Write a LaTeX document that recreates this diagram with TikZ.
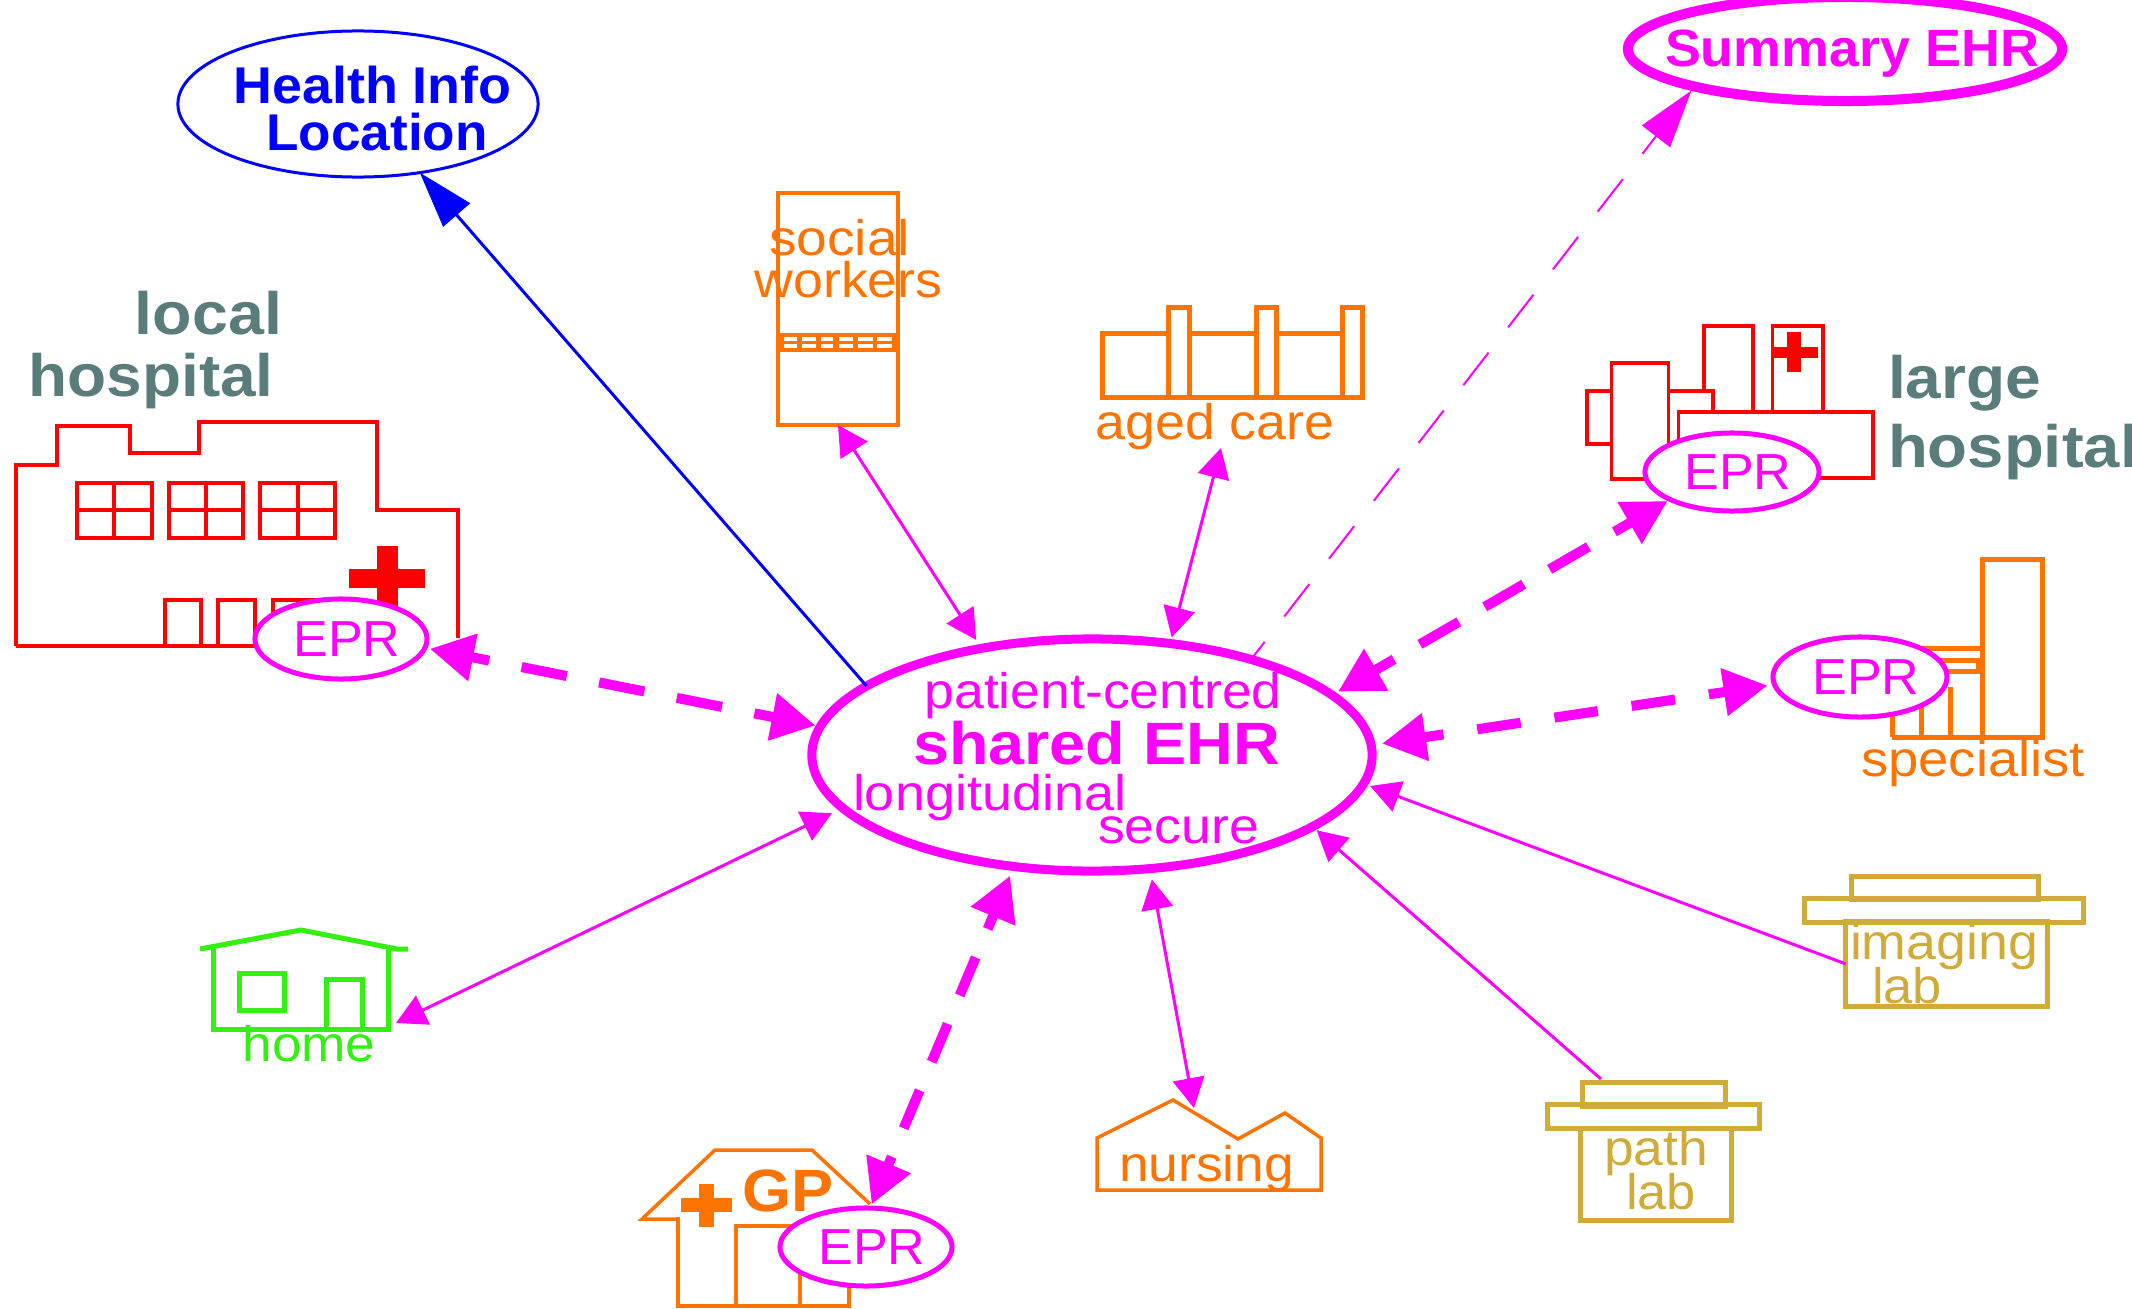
\documentclass[tikz,border=0pt]{standalone}
\usepackage{fontspec}
\usepackage{graphicx}
\setmainfont{Liberation Sans}
\usetikzlibrary{arrows.meta,shapes.geometric}
\newdimen\pxu \pxu=0.28453pt
\newcommand{\fitw}[2]{\resizebox{#1\pxu}{\height}{#2}}
\newcommand{\eprlabel}{\hspace*{12\pxu}\fontsize{14.4pt}{16pt}\selectfont\fitw{107}{EPR}}
\definecolor{mag}{HTML}{FF00FF}
\definecolor{orng}{HTML}{FF7300}
\definecolor{gold}{HTML}{CFAB3A}
\definecolor{grn}{HTML}{33F011}
\definecolor{teal2}{HTML}{5A7D7C}
\tikzset{
  x=0.01cm, y=-0.01cm,
  redl/.style={draw=red,line width=3.5\pxu},
  orl/.style={draw=orng,line width=5\pxu},
  goldl/.style={draw=gold,line width=5\pxu},
  grnl/.style={draw=grn,line width=5\pxu},
  txt/.style={anchor=base west,inner sep=0pt,outer sep=0pt,yshift=-1.2\pxu},
  reg/.style={txt,font=\fontsize{14.2pt}{16pt}\selectfont},
  bld/.style={txt,font=\fontsize{17pt}{19pt}\selectfont\bfseries},
  mainell/.style={ellipse,draw=mag,fill=white,line width=9\pxu,minimum width=560\pxu,minimum height=232\pxu,inner sep=0pt,outer sep=0pt},
  eprell/.style={ellipse,draw=mag,fill=white,line width=5\pxu,text=mag,minimum width=172\pxu,minimum height=80\pxu,inner sep=0pt,outer sep=0pt},
  boxn/.style={rectangle,inner sep=0pt,outer sep=0pt},
  thick arr/.style={draw=mag,line width=10\pxu,
     {Triangle[length=12.5pt,width=13pt]}-{Triangle[length=12.5pt,width=13pt]}},
  thin arr/.style={draw=mag,line width=3\pxu,
     {Triangle[length=8.5pt,width=9pt]}-{Triangle[length=8.5pt,width=9pt]}},
}
\begin{document}
\begin{tikzpicture}
\useasboundingbox (0,0) rectangle (2132,1309);

% local hospital
\draw[redl] (16,646) -- (16,465) -- (57,465) -- (57,426) -- (130,426) -- (130,453) -- (199,453) -- (199,422) -- (377,422) -- (377,510) -- (458,510) -- (458,638);
\draw[redl] (16,646) -- (300,646);
\foreach \a/\b/\c in {77/114/152,169/206/243,260/298/335}{
  \draw[redl] (\a,483) rectangle (\c,538);
  \draw[redl] (\a,510) -- (\c,510);
  \draw[redl] (\b,483) -- (\b,538);
}
\draw[redl] (165,646) |- (201,600) -- (201,646);
\draw[redl] (218,646) |- (255,600) -- (255,646);
\draw[redl] (273,646) |- (320,600);
\fill[red] (377,546) rectangle (398,620);
\fill[red] (349,569) rectangle (425,588);

% large hospital
\draw[redl] (1587,391) rectangle (1611.5,444);
\draw[redl] (1611.5,363) rectangle (1668.5,479);
\draw[redl] (1668.5,391) -- (1712.8,391) -- (1712.8,412);
\draw[redl] (1704,391) -- (1704,326) -- (1753,326) -- (1753,412);
\draw[redl] (1772.7,412) -- (1772.7,326) -- (1823,326) -- (1823,412);
\draw[redl] (1678.4,412) rectangle (1873,478);
\fill[red] (1786.5,332) rectangle (1801,372);
\fill[red] (1771,347) rectangle (1818,358);

% specialist
\draw[orl] (1982,559) rectangle (2042,737);
\draw[orl] (1892,737) -- (1982,737);
\draw[orl] (1892,737) -- (1892,690);
\draw[orl] (1921,737) -- (1921,690);
\draw[orl] (1950,737) -- (1950,687);
\draw[orl] (1895,648) -- (1982,648);
\draw[orl] (1895,660) -- (1977,660);
\draw[orl] (1895,671) -- (1982,671);
\fill[orng] (1976,658) rectangle (1982,673);

% social workers
\node[boxn,draw=orng,line width=4\pxu,minimum width=120\pxu,minimum height=232\pxu] (socialbox) at (838,309) {};
\fill[orng] (778,333) rectangle (898,352);
\foreach \a/\b in {784/797,802/816,821/833,839/853,858/873,877/892}{
  \fill[white] (\a,337) rectangle (\b,341);
  \fill[white] (\a,344) rectangle (\b,348);
}

% aged care
\draw[orl] (1168,333) -- (1102,333) -- (1102,397) -- (1362,397);
\draw[orl] (1168,307) rectangle (1189,397);
\draw[orl] (1189,333) -- (1256,333);
\draw[orl] (1256,307) rectangle (1276,397);
\draw[orl] (1276,333) -- (1342,333);
\draw[orl] (1342,307) rectangle (1362,397);

% imaging lab
\draw[goldl] (1851,876) rectangle (2038,899);
\draw[goldl] (1804,898) rectangle (2083,922);
\node[boxn,draw=gold,line width=5\pxu,minimum width=201\pxu,minimum height=84\pxu] (imgbody) at (1946.5,964) {};

% path lab
\draw[goldl] (1582,1082) rectangle (1725,1106);
\draw[goldl] (1547,1104) rectangle (1759,1128);
\draw[goldl] (1580,1128) rectangle (1731,1220);
\coordinate (pathp) at (1601,1079);

% home
\draw[grnl] (200,949) -- (301,930) -- (397,949) -- (408,949);
\draw[grnl] (213,949) -- (213,1029) -- (388,1029) -- (388,949);
\draw[grnl] (239,973) rectangle (284,1010);
\draw[grnl] (326,1029) -- (326,979) -- (362,979) -- (362,1029);
\coordinate (homep) at (396,1023);

% GP
\draw[draw=orng,line width=3.5\pxu] (678,1219) -- (642,1219) -- (715,1150) -- (812,1150) -- (870,1204);
\draw[draw=orng,line width=4\pxu] (678,1217) -- (678,1306) -- (849,1306) -- (849,1270);
\draw[draw=orng,line width=4\pxu] (736,1306) -- (736,1226) -- (800,1226) -- (800,1306);
\fill[orng] (699,1184) rectangle (714,1227);
\fill[orng] (681,1198) rectangle (732,1212);

% nursing
\draw[draw=orng,line width=3.5\pxu] (1097,1138) -- (1173,1100) -- (1238,1139) -- (1285,1113) -- (1321,1138) -- (1321,1190) -- (1097,1190) -- cycle;
\coordinate (nursep) at (1194,1108);
\coordinate (agedp) at (1221,448);

% ellipses
\node[ellipse,draw=blue,fill=white,line width=3\pxu,minimum width=360\pxu,minimum height=146\pxu,inner sep=0pt,outer sep=0pt] (health) at (358,104) {};
\node[ellipse,draw=mag,fill=white,line width=10\pxu,minimum width=434\pxu,minimum height=104\pxu,inner sep=0pt,outer sep=0pt] (summ) at (1845,49) {};
\node[mainell] (main) at (1092,755) {};
\node[eprell] (eprL) at (341,639) {\eprlabel};
\node[eprell,minimum width=174\pxu,minimum height=78\pxu] (eprH) at (1732,472) {\eprlabel};
\node[eprell,minimum width=174\pxu] (eprS) at (1860,677) {\eprlabel};
\node[eprell,minimum width=172\pxu,minimum height=78\pxu] (eprG) at (866,1247) {\eprlabel};

% text
\node[bld,text=blue,font=\fontsize{14.7pt}{16pt}\selectfont\bfseries] (t1) at (233.5,102) {\fitw{278}{Health Info}};
\node[bld,text=blue,font=\fontsize{14.7pt}{16pt}\selectfont\bfseries] (t2) at (266.5,149) {\fitw{221}{Location}};
\node[bld,text=mag,font=\fontsize{14.9pt}{16pt}\selectfont\bfseries] (t3) at (1665,65) {\fitw{374}{Summary EHR}};
\node[bld,text=teal2] (t4) at (135,333) {\fitw{147}{local}};
\node[bld,text=teal2] (t5) at (28.5,395) {\fitw{245}{hospital}};
\node[bld,text=teal2] (t6) at (1888,397) {\fitw{153}{large}};
\node[bld,text=teal2] (t7) at (1888,466) {\fitw{250}{hospital}};
\node[reg,text=orng] (t8) at (769,254) {\fitw{141}{social}};
\node[reg,text=orng] (t9) at (754.5,296) {\fitw{188}{workers}};
\node[reg,text=orng] (t10) at (1095.5,438) {\fitw{239}{aged care}};
\node[reg,text=orng] (t11) at (1861,775) {\fitw{224}{specialist}};
\node[reg,text=gold] (t12) at (1850,958) {\fitw{188}{imaging}};
\node[reg,text=gold] (t13) at (1872,1002) {\fitw{70}{lab}};
\node[reg,text=gold] (t14) at (1604,1164) {\fitw{104}{path}};
\node[reg,text=gold] (t15) at (1626,1208) {\fitw{70}{lab}};
\node[reg,text=grn] (t16) at (242.5,1060) {\fitw{133}{home}};
\node[reg,text=orng] (t17) at (1119,1180) {\fitw{175}{nursing}};
\node[bld,text=orng] (t18) at (742.5,1210) {\fitw{91}{GP}};
\node[reg,text=mag] (t19) at (924.5,707) {\fitw{357}{patient-centred}};
\node[bld,text=mag] (t20) at (913,763) {\fitw{367}{shared EHR}};
\node[reg,text=mag] (t21) at (853,809) {\fitw{273}{longitudinal}};
\node[reg,text=mag] (t22) at (1098,842) {\fitw{161}{secure}};

% connectors
\draw[draw=blue,line width=3\pxu,-{Triangle[length=16pt,width=10pt]}] (main.163.07) -- (health.312.3);
\draw[draw=mag,line width=2\pxu,dash pattern=on 11.7pt off 9.1pt,dash phase=6.5pt,-{Triangle[length=16.5pt,width=10pt]},shorten <=4\pxu,shorten >=5\pxu] (main.31.85) -- (summ.194.3);

\draw[thick arr,dash pattern=on 13.1pt off 9.4pt,dash phase=7.7pt,shorten <=5\pxu,shorten >=5\pxu] (eprL.354.2) -- (main.174.88);
\draw[thick arr,dash pattern=on 12.8pt off 8.5pt,dash phase=7.1pt,shorten <=3\pxu,shorten >=7\pxu] (eprH.204.8) -- (main.14.42);
\draw[thick arr,dash pattern=on 12.5pt off 9.7pt,dash phase=7.4pt,shorten <=7\pxu,shorten >=11\pxu] (eprS.185.5) -- (main.2.97);
\draw[thick arr,dash pattern=on 11.7pt off 8.8pt,dash phase=8.8pt,shorten <=4\pxu,shorten >=10\pxu] (eprG.84.7) -- (main.235.66);

\draw[thin arr,shorten >=10\pxu] (socialbox.south) -- (main.136.96);
\draw[thin arr,shorten >=6.5\pxu] (agedp) -- (main.55.64);
\draw[thin arr,shorten >=11\pxu] (nursep) -- (main.297.86);
\draw[thin arr,shorten >=12\pxu] (homep) -- (main.192.41);
\draw[draw=mag,line width=3\pxu,-{Triangle[length=8.5pt,width=9pt]},shorten >=5.5\pxu] (pathp) -- (main.342.1);
\draw[draw=mag,line width=3\pxu,-{Triangle[length=8.5pt,width=9pt]},shorten >=7\pxu] (imgbody.west) -- (main.354.7);
\end{tikzpicture}
\end{document}
